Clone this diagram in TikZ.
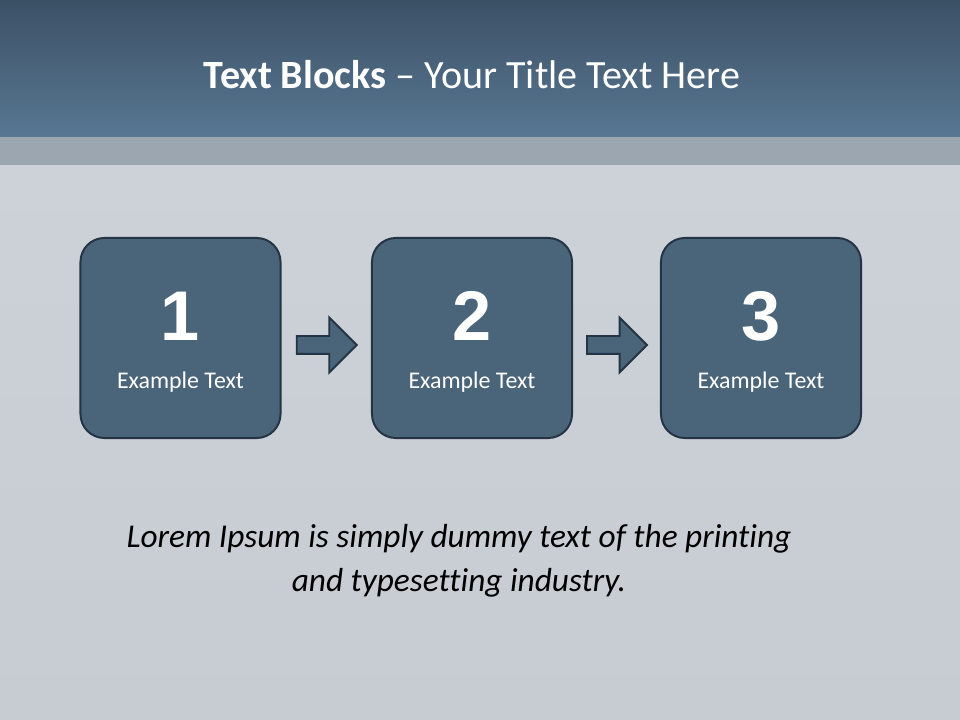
\documentclass[tikz,border=0pt]{standalone}
\usepackage{fontspec}
\setmainfont{Carlito}[Ligatures={NoCommon}]
\newfontfamily\numfont{Liberation Sans}
\definecolor{slate}{HTML}{4A6479}
\definecolor{slateline}{HTML}{243444}
\definecolor{bandtop}{HTML}{3C5166}
\definecolor{bandbot}{HTML}{587792}
\definecolor{strip}{HTML}{9BA6B1}
\definecolor{papertop}{HTML}{CDD2D8}
\definecolor{paperbot}{HTML}{C7CCD2}
\usetikzlibrary{calc, positioning, shapes.arrows}

\begin{document}
\begin{tikzpicture}[x=0.025cm, y=-0.025cm,
  blk/.style={draw=slateline, line width=1.4pt, fill=slate, rounded corners=17pt,
              minimum width=5cm, minimum height=5cm, inner sep=0pt},
  num/.style={text=white, inner sep=0pt, font=\numfont\bfseries\fontsize{50}{50}\selectfont},
  captxt/.style={text=white, anchor=base, font=\fontsize{17}{20}\selectfont},
  flow/.style={single arrow, draw=slateline, line width=1.4pt, fill=slate,
               minimum height=1.5cm, inner xsep=0pt, inner ysep=0.2cm,
               single arrow head extend=0.4625cm},
]
\useasboundingbox (0,0) rectangle (960,720);
% background
\shade[top color=papertop, bottom color=paperbot] (0,165) rectangle (960,720);
\shade[top color=bandtop, bottom color=bandbot] (0,0) rectangle (960,137);
\fill[strip] (0,137) rectangle (960,165);
\node[anchor=base, text=white, font=\fontsize{28.5}{32}\selectfont] (title) at (472,89)
  {\textbf{Text Blocks} – Your Title Text Here};

% blocks
\node[blk] (b1) at (180.5,338) {};
\node[blk] (b2) at (472,338) {};
\node[blk] (b3) at (761,338) {};
\foreach \i in {1,2,3} {
  \node[num] (n\i) at ($(b\i.center)+(0,-22)$) {\i};
  \node[captxt] (t\i) at ($(b\i.center)+(0,51)$) {Example Text};
}
\node[flow] (a1) at ($(b1.east)!0.5!(b2.west)+(-4,7)$) {};
\node[flow] (a2) at ($(b2.east)!0.5!(b3.west)+(-4,7)$) {};

\node[align=center, font=\fontsize{23.7}{31.5}\selectfont\itshape] (note) at (459,561)
  {Lorem Ipsum is simply dummy text of the printing\\and typesetting industry.};
\end{tikzpicture}
\end{document}
